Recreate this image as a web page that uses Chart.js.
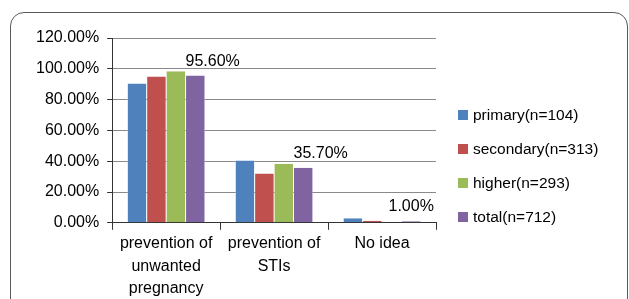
<!DOCTYPE html>
<html>
<head>
<meta charset="utf-8">
<script src="https://cdn.jsdelivr.net/npm/chart.js@4.4.0/dist/chart.umd.min.js"></script>
<style>
  body { margin: 0; background: #fff; }
  #wrap { position: relative; width: 629px; height: 299px; overflow: hidden; }
  #frame {
    position: absolute; left: 10px; top: 12px; width: 616px; height: 330px;
    border: 1.5px solid #5a5a5a; border-radius: 14px;
  }
  canvas { position: absolute; left: 0; top: 0; }
</style>
</head>
<body>
<div id="wrap">
  <div id="frame"></div>
  <canvas id="chart" width="629" height="303"></canvas>
</div>
<script>
const categories = [
  ["prevention of", "unwanted", "pregnancy"],
  ["prevention of", "STIs"],
  "No idea",
];
const seriesNames = ["primary(n=104)", "secondary(n=313)", "higher(n=293)", "total(n=712)"];
const primary = [90.4, 40.4, 3.0];
const secondary = [95.0, 32.0, 1.3];
const higher = [98.4, 38.3, 0];
const total = [95.6, 35.7, 1.0];
const yTicks = [0, 20, 40, 60, 80, 100, 120];

const colors = ["#4F81BD", "#C0504D", "#9BBB59", "#8064A2"];
// label alignment over the "total" bars (Excel labels were nudged by hand)
const labelAlign = ["left", "left", "center"];

const FONT = { family: "'Liberation Sans', Arial, sans-serif", size: 16 };

// draws value labels above the total series only
const totalLabels = {
  id: "totalLabels",
  afterDatasetsDraw(chart) {
    const ctx = chart.ctx;
    const meta = chart.getDatasetMeta(3);
    ctx.save();
    ctx.font = `${FONT.size}px ${FONT.family}`;
    ctx.fillStyle = "#000";
    ctx.textBaseline = "alphabetic";
    meta.data.forEach((bar, i) => {
      const align = labelAlign[i];
      ctx.textAlign = align;
      const x = align === "left" ? bar.x - bar.width / 2 : bar.x;
      ctx.fillText(total[i].toFixed(2) + "%", x, bar.y - 10);
    });
    ctx.restore();
  },
};

// legend on the right, Excel style
const sideLegend = {
  id: "sideLegend",
  afterDraw(chart) {
    const ctx = chart.ctx;
    const x = chart.chartArea.right + 22;
    ctx.save();
    ctx.font = `15.5px ${FONT.family}`;
    ctx.textBaseline = "middle";
    ctx.textAlign = "left";
    chart.data.datasets.forEach((ds, i) => {
      const y = 115 + i * 34;
      ctx.fillStyle = ds.backgroundColor;
      ctx.fillRect(x, y - 5, 10, 10);
      ctx.fillStyle = "#000";
      ctx.fillText(ds.label, x + 15, y + 1);
    });
    ctx.restore();
  },
};

new Chart(document.getElementById("chart"), {
  type: "bar",
  data: {
    labels: categories,
    datasets: [primary, secondary, higher, total].map((d, i) => ({
      label: seriesNames[i],
      data: d,
      backgroundColor: colors[i],
      borderColor: "rgba(255,255,255,0.7)",
      borderWidth: { left: 0.5, right: 0.5 },
      barPercentage: 1,
      categoryPercentage: 0.72,
    })),
  },
  options: {
    responsive: false,
    animation: false,
    devicePixelRatio: 1,
    layout: { padding: { left: 28, top: 38, right: 193, bottom: 0 } },
    scales: {
      x: {
        grid: {
          drawOnChartArea: false,
          drawTicks: true,
          tickLength: 7,
          offset: true,
          tickColor: "#333",
        },
        border: { color: "#333", width: 1 },
        ticks: {
          color: "#000",
          font: { ...FONT, lineHeight: 1.4 },
          padding: 3,
          maxRotation: 0,
        },
      },
      y: {
        min: 0,
        max: 120,
        afterBuildTicks: (axis) => {
          axis.ticks = yTicks.map((v) => ({ value: v }));
        },
        grid: { color: "#8a8a8a", lineWidth: 1, tickLength: 5, tickColor: "#333" },
        border: { color: "#333", width: 1 },
        ticks: {
          color: "#000",
          font: FONT,
          padding: 8,
          callback: (v) => v.toFixed(2) + "%",
        },
      },
    },
    plugins: {
      legend: { display: false },
      tooltip: { enabled: false },
    },
  },
  plugins: [totalLabels, sideLegend],
});
</script>
</body>
</html>
